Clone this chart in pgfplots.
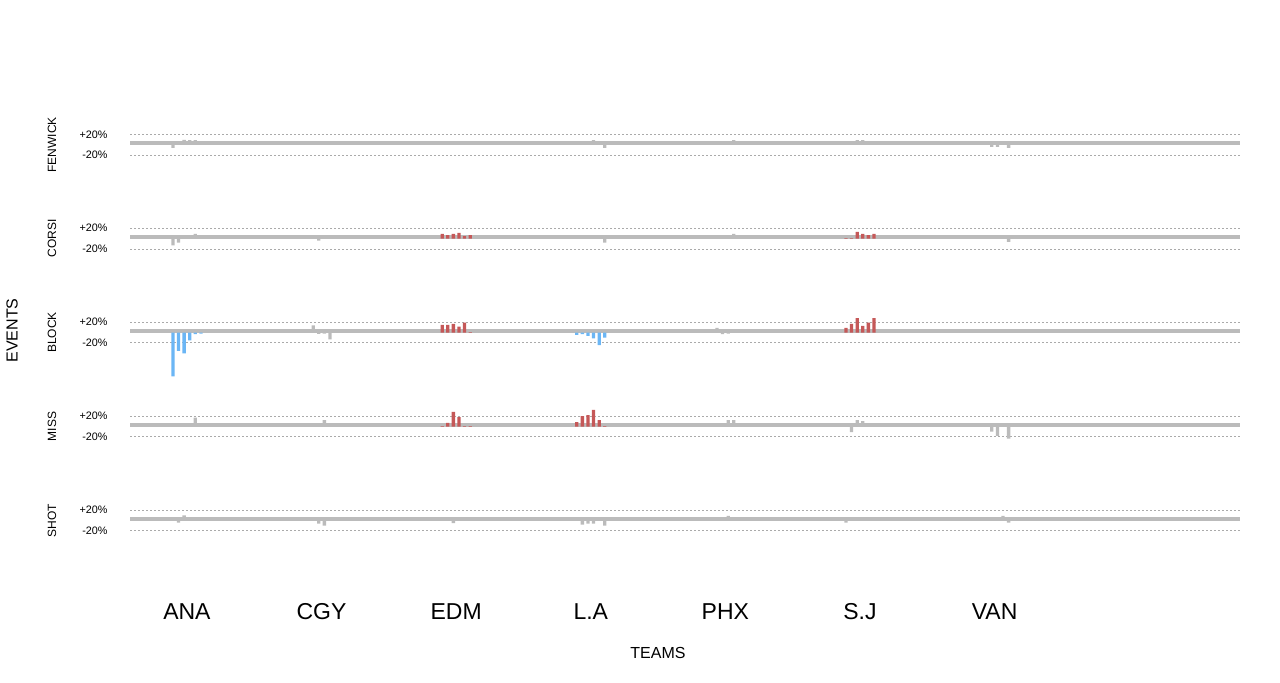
\documentclass[border=0pt]{standalone}
\usepackage{pgfplots}
\pgfplotsset{compat=1.18}
\usepackage{pgfplotstable}
\usepackage{fontspec}
\setmainfont{Liberation Sans}

\definecolor{bandgray}{RGB}{187,187,187}
\definecolor{gridgray}{RGB}{170,170,170}
\definecolor{upred}{RGB}{197,88,88}
\definecolor{downblue}{RGB}{107,182,245}

% t = team (0 ANA ... 6 VAN), s = slot within team, v = change in %, c = 0 gray / 1 red / 2 blue
\pgfplotstableread{
t s v c
0 0 -6 0
0 2 9.5 0
0 3 9 0
0 4 9 0
3 3 9 0
3 5 -6 0
4 4 9 0
5 2 9 0
5 3 9 0
6 2 -4 0
6 3 -4 0
6 5 -6 0
}\fenwick

\pgfplotstableread{
t s v c
0 0 -13 0
0 1 -7.5 0
0 4 9 0
1 2 -4 0
2 0 9 1
2 1 7 1
2 2 9 1
2 3 11 1
2 4 5 1
2 5 7 1
3 5 -7.5 0
4 4 9 0
5 0 1 1
5 1 1 1
5 2 13 1
5 3 9 1
5 4 7 1
5 5 9 1
6 5 -6 0
}\corsi

\pgfplotstableread{
t s v c
0 0 -84 2
0 1 -35 2
0 2 -40 2
0 3 -15 2
0 4 -3 2
0 5 -2 2
1 1 14 0
1 2 -2.5 0
1 3 -2 0
1 4 -13 0
2 0 15 1
2 1 15 1
2 2 17 1
2 3 11.5 1
2 4 19 1
2 5 1 1
3 0 -4.5 2
3 1 -3 2
3 2 -6.5 2
3 3 -11 2
3 4 -24 2
3 5 -9.5 2
4 1 9 0
4 2 -3 0
4 3 -2 0
5 0 9 1
5 1 17 1
5 2 28 1
5 3 13 1
5 4 19 1
5 5 28 1
}\block

\pgfplotstableread{
t s v c
0 4 17 0
1 3 12.5 0
2 0 1 1
2 1 7 1
2 2 28 1
2 3 18 1
2 4 1 1
2 5 1 1
3 0 8.6 1
3 1 20 1
3 2 22 1
3 3 32 1
3 4 12.5 1
3 5 1 1
4 3 12.5 0
4 4 12.5 0
5 1 -10.5 0
5 2 12.5 0
5 3 10.5 0
6 2 -10 0
6 3 -18 0
6 5 -23 0
}\miss

\pgfplotstableread{
t s v c
0 1 -4 0
0 2 10 0
1 2 -6 0
1 3 -10 0
2 2 -5 0
3 1 -8 0
3 2 -6 0
3 3 -6 0
3 5 -10 0
4 3 9 0
5 0 -4 0
6 4 9 0
6 5 -4 0
}\shot

\pgfplotsset{
  evrow/.style={
    scale only axis, width=555pt, height=10.4pt,
    xmin=-0.423, xmax=7.823, ymin=-20, ymax=20,
    clip=false, anchor=south west,
    axis line style={draw=none},
    major tick length=0pt,
    xtick=\empty,
    ytick={-20,20}, yticklabels={-20\%,+20\%},
    ymajorgrids,
    grid style={gridgray, line width=0.5pt, dash pattern=on 1pt off 1pt},
    yticklabel style={font=\fontsize{5.4}{6}\selectfont, inner sep=0pt, xshift=-11pt},
    ylabel style={at={(axis description cs:-0.0703,0.5)}, anchor=center,
      font=\fontsize{6}{7}\selectfont},
  },
  evbar/.style={ybar, bar width=1.65pt, bar shift=0pt, draw=none},
}

\newcommand{\rowbars}[1]{%
  \addplot[line width=1.95pt, color=bandgray, forget plot] coordinates {(-0.423,2.7) (7.823,2.7)};
  \addplot[evbar, fill=bandgray] table[x expr=\thisrow{t}+(\thisrow{s}-2.5)*0.0416, y=v,
    restrict expr to domain={\thisrow{c}}{0:0}] {#1};
  \addplot[evbar, fill=upred] table[x expr=\thisrow{t}+(\thisrow{s}-2.5)*0.0416, y=v,
    restrict expr to domain={\thisrow{c}}{1:1}] {#1};
  \addplot[evbar, fill=downblue] table[x expr=\thisrow{t}+(\thisrow{s}-2.5)*0.0416, y=v,
    restrict expr to domain={\thisrow{c}}{2:2}] {#1};
}

\begin{document}
\begin{tikzpicture}
\path[use as bounding box] (0,0) rectangle (640pt,-341.5pt);

\begin{axis}[evrow, at={(65pt,-77.55pt)}, ylabel={FENWICK}]
\rowbars{\fenwick}
\end{axis}

\begin{axis}[evrow, at={(65pt,-124.525pt)}, ylabel={CORSI}]
\rowbars{\corsi}
\end{axis}

\begin{axis}[evrow, at={(65pt,-171.5pt)}, ylabel={BLOCK}]
\rowbars{\block}
\end{axis}

\begin{axis}[evrow, at={(65pt,-218.475pt)}, ylabel={MISS}]
\rowbars{\miss}
\end{axis}

\begin{axis}[evrow, at={(65pt,-265.45pt)}, ylabel={SHOT},
  xtick={0,1,2,3,4,5,6}, xticklabels={ANA,CGY,EDM,L.A,PHX,S.J,VAN},
  xticklabel style={font=\fontsize{11.5}{13}\selectfont, anchor=center, inner sep=0pt, yshift=-40.5pt}]
\rowbars{\shot}
\end{axis}

\node[rotate=90, font=\fontsize{8}{9}\selectfont] at (6pt,-165.25pt) {EVENTS};
\node[font=\fontsize{8}{9}\selectfont] at (329pt,-326.5pt) {TEAMS};
\end{tikzpicture}
\end{document}
